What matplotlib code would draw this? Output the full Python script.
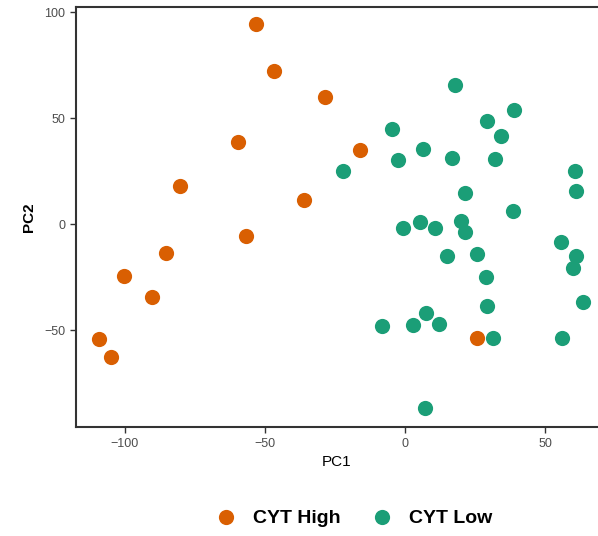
import matplotlib.pyplot as plt

plt.rcParams['font.family'] = ['Liberation Sans', 'DejaVu Sans']

# CYT High 组
high_pc1 = [-53.2, -46.8, -28.6, -59.6, -16.1, -80.4, -36.1, -56.8, -100.4, -85.4, -90.4, -109.3, -105.0, 25.6]
high_pc2 = [94.3, 72.2, 59.9, 38.7, 34.9, 17.9, 11.3, -5.7, -24.5, -13.7, -34.4, -54.2, -62.7, -53.8]

# CYT Low 组
low_pc1 = [17.9, 39.0, -4.8, 29.4, 34.3, 6.3, -2.6, 16.9, 32.1, 60.8, 61.1, 21.4, 38.5, -0.6, 5.4, 10.7, 20.0,
           21.4, 55.6, 61.1, 59.9, 14.9, 25.8, 28.8, 63.5, 29.2, 7.5, 3.0, 12.3, -8.3, 31.3, 56.0, 7.1, -22.1]
low_pc2 = [65.6, 53.9, 45.1, 48.6, 41.4, 35.7, 30.3, 31.0, 30.7, 24.9, 15.6, 14.6, 6.0, -1.9, 0.8, -1.9, 1.7,
           -3.6, -8.6, -15.2, -20.9, -14.9, -14.2, -24.7, -36.9, -38.5, -41.7, -47.5, -47.2, -48.0, -53.5, -53.9, -86.9, 25.0]

x_ticks = [-100, -50, 0, 50]
y_ticks = [-50, 0, 50, 100]


def main():
    fig = plt.figure(figsize=(5.98, 5.36), dpi=100)
    ax = fig.add_axes([0.127, 0.203, 0.873, 0.784])

    ax.scatter(high_pc1, high_pc2, s=120, color='#D95F02', label='CYT High', zorder=3, linewidths=0)
    ax.scatter(low_pc1, low_pc2, s=120, color='#1B9E77', label='CYT Low', zorder=3, linewidths=0)

    ax.set_xlim(-117.5, 68.9)
    ax.set_ylim(-95.8, 102.5)
    ax.set_xticks(x_ticks)
    ax.set_yticks(y_ticks)
    ax.tick_params(length=4, width=1, color='#333333', labelsize=9, labelcolor='#4d4d4d')

    for side in ['left', 'bottom', 'top']:
        ax.spines[side].set_color('#333333')
        ax.spines[side].set_linewidth(1.5)
    ax.spines['right'].set_visible(False)

    ax.set_xlabel('PC1', fontsize=11, labelpad=4)
    ax.set_ylabel('PC2', fontsize=11, fontweight='bold', labelpad=6)

    # 图例放在底部
    fig.legend(loc='center', bbox_to_anchor=(0.584, 0.034), ncol=2, frameon=False,
               prop={'size': 14, 'weight': 'bold'}, handletextpad=0.4, columnspacing=1.1,
               markerscale=1.0)

    fig.savefig('out.png', dpi=100)


if __name__ == "__main__":
    main()
